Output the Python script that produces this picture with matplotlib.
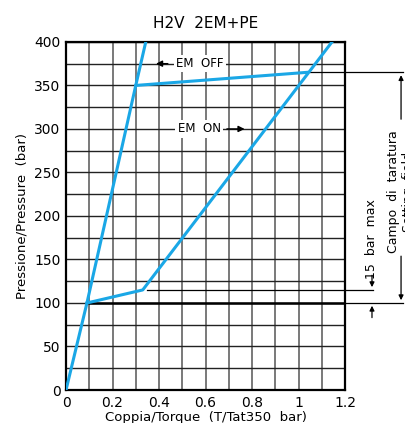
import numpy as np
import matplotlib.pyplot as plt

# curve points
em_off_x = [0.0, 0.09, 0.30, 1.035]
em_off_y = [0, 100, 350, 365]
steep_x = [0.30, 0.343]
steep_y = [350, 400]
em_on_x = [0.09, 0.33, 1.144]
em_on_y = [100, 115, 400]

setting_low = 100
setting_high = 365
hyst_top = 115

blue = '#1aa7e6'

fig = plt.figure(figsize=(4.06, 4.23), dpi=100)
ax = fig.add_axes([0.1626, 0.078, 0.6872, 0.8229])

ax.set_xlim(0, 1.2)
ax.set_ylim(0, 400)
ax.set_xticks(np.arange(0, 1.21, 0.2))
ax.set_xticklabels(['0', '0.2', '0.4', '0.6', '0.8', '1', '1.2'])
ax.set_yticks(np.arange(0, 401, 50))
ax.set_xticks(np.arange(0, 1.21, 0.1), minor=True)
ax.set_yticks(np.arange(0, 401, 25), minor=True)
ax.tick_params(which='both', length=0, labelsize=10, pad=4)
ax.grid(True, which='both', axis='x', color='#555555', lw=1.1)
ax.grid(True, which='both', axis='y', color='#222222', lw=1.0)
ax.set_axisbelow(True)
for s in ax.spines.values():
    s.set_linewidth(1.6)

# curves
ax.plot(em_off_x, em_off_y, color=blue, lw=2.2, zorder=4, solid_joinstyle='miter')
ax.plot(steep_x, steep_y, color=blue, lw=2.2, zorder=4)
ax.plot(em_on_x, em_on_y, color=blue, lw=2.2, zorder=4)

# thick 100 bar line
ax.plot([0.1, 1.2], [setting_low, setting_low], color='black', lw=1.8, zorder=3)

# extension lines to the dimension marks
ax.plot([1.2, 1.45], [setting_low, setting_low], color='black', lw=0.9, clip_on=False)
ax.plot([1.05, 1.45], [setting_high, setting_high], color='black', lw=0.9, clip_on=False)
ax.plot([0.35, 1.32], [hyst_top, hyst_top], color='black', lw=0.9, clip_on=False, zorder=3)

# labels on the curves
ax.text(0.475, 375, 'EM  OFF', fontsize=8.5, va='center', ha='left', zorder=5,
        bbox=dict(fc='white', ec='none', pad=1.5))
ax.annotate('', xy=(0.375, 375), xytext=(0.45, 375),
            arrowprops=dict(arrowstyle='-|>', color='black', lw=1, mutation_scale=9),
            zorder=5, annotation_clip=False)
ax.text(0.48, 300, 'EM  ON', fontsize=8.5, va='center', ha='left', zorder=5,
        bbox=dict(fc='white', ec='none', pad=1.5))
ax.annotate('', xy=(0.78, 300), xytext=(0.68, 300),
            arrowprops=dict(arrowstyle='-|>', color='black', lw=1, mutation_scale=9),
            zorder=5, annotation_clip=False)

# setting field dimension
xd = 1.441
ax.annotate('', xy=(xd, setting_high), xytext=(xd, 308),
            arrowprops=dict(arrowstyle='-|>', color='black', lw=0.9, mutation_scale=7),
            annotation_clip=False)
ax.annotate('', xy=(xd, setting_low), xytext=(xd, 157),
            arrowprops=dict(arrowstyle='-|>', color='black', lw=0.9, mutation_scale=7),
            annotation_clip=False)
ax.text(xd, 228, 'Campo  di  taratura\nSetting  field', rotation=90, fontsize=9,
        ha='center', va='center', linespacing=1.2, clip_on=False)

# 15 bar max dimension
xh = 1.316
ax.annotate('', xy=(xh, hyst_top), xytext=(xh, 135),
            arrowprops=dict(arrowstyle='-|>', color='black', lw=0.9, mutation_scale=7),
            annotation_clip=False)
ax.annotate('', xy=(xh, setting_low), xytext=(xh, 80),
            arrowprops=dict(arrowstyle='-|>', color='black', lw=0.9, mutation_scale=7),
            annotation_clip=False)
ax.text(xh, 174, '15  bar  max', rotation=90, fontsize=9,
        ha='center', va='center', clip_on=False)

ax.set_title('H2V  2EM+PE', fontsize=11, pad=10)
ax.set_xlabel('Coppia/Torque  (T/Tat350  bar)', fontsize=9.5, labelpad=1)
ax.set_ylabel('Pressione/Pressure  (bar)', fontsize=9.5, labelpad=4)

fig.savefig('out.png', dpi=100)
